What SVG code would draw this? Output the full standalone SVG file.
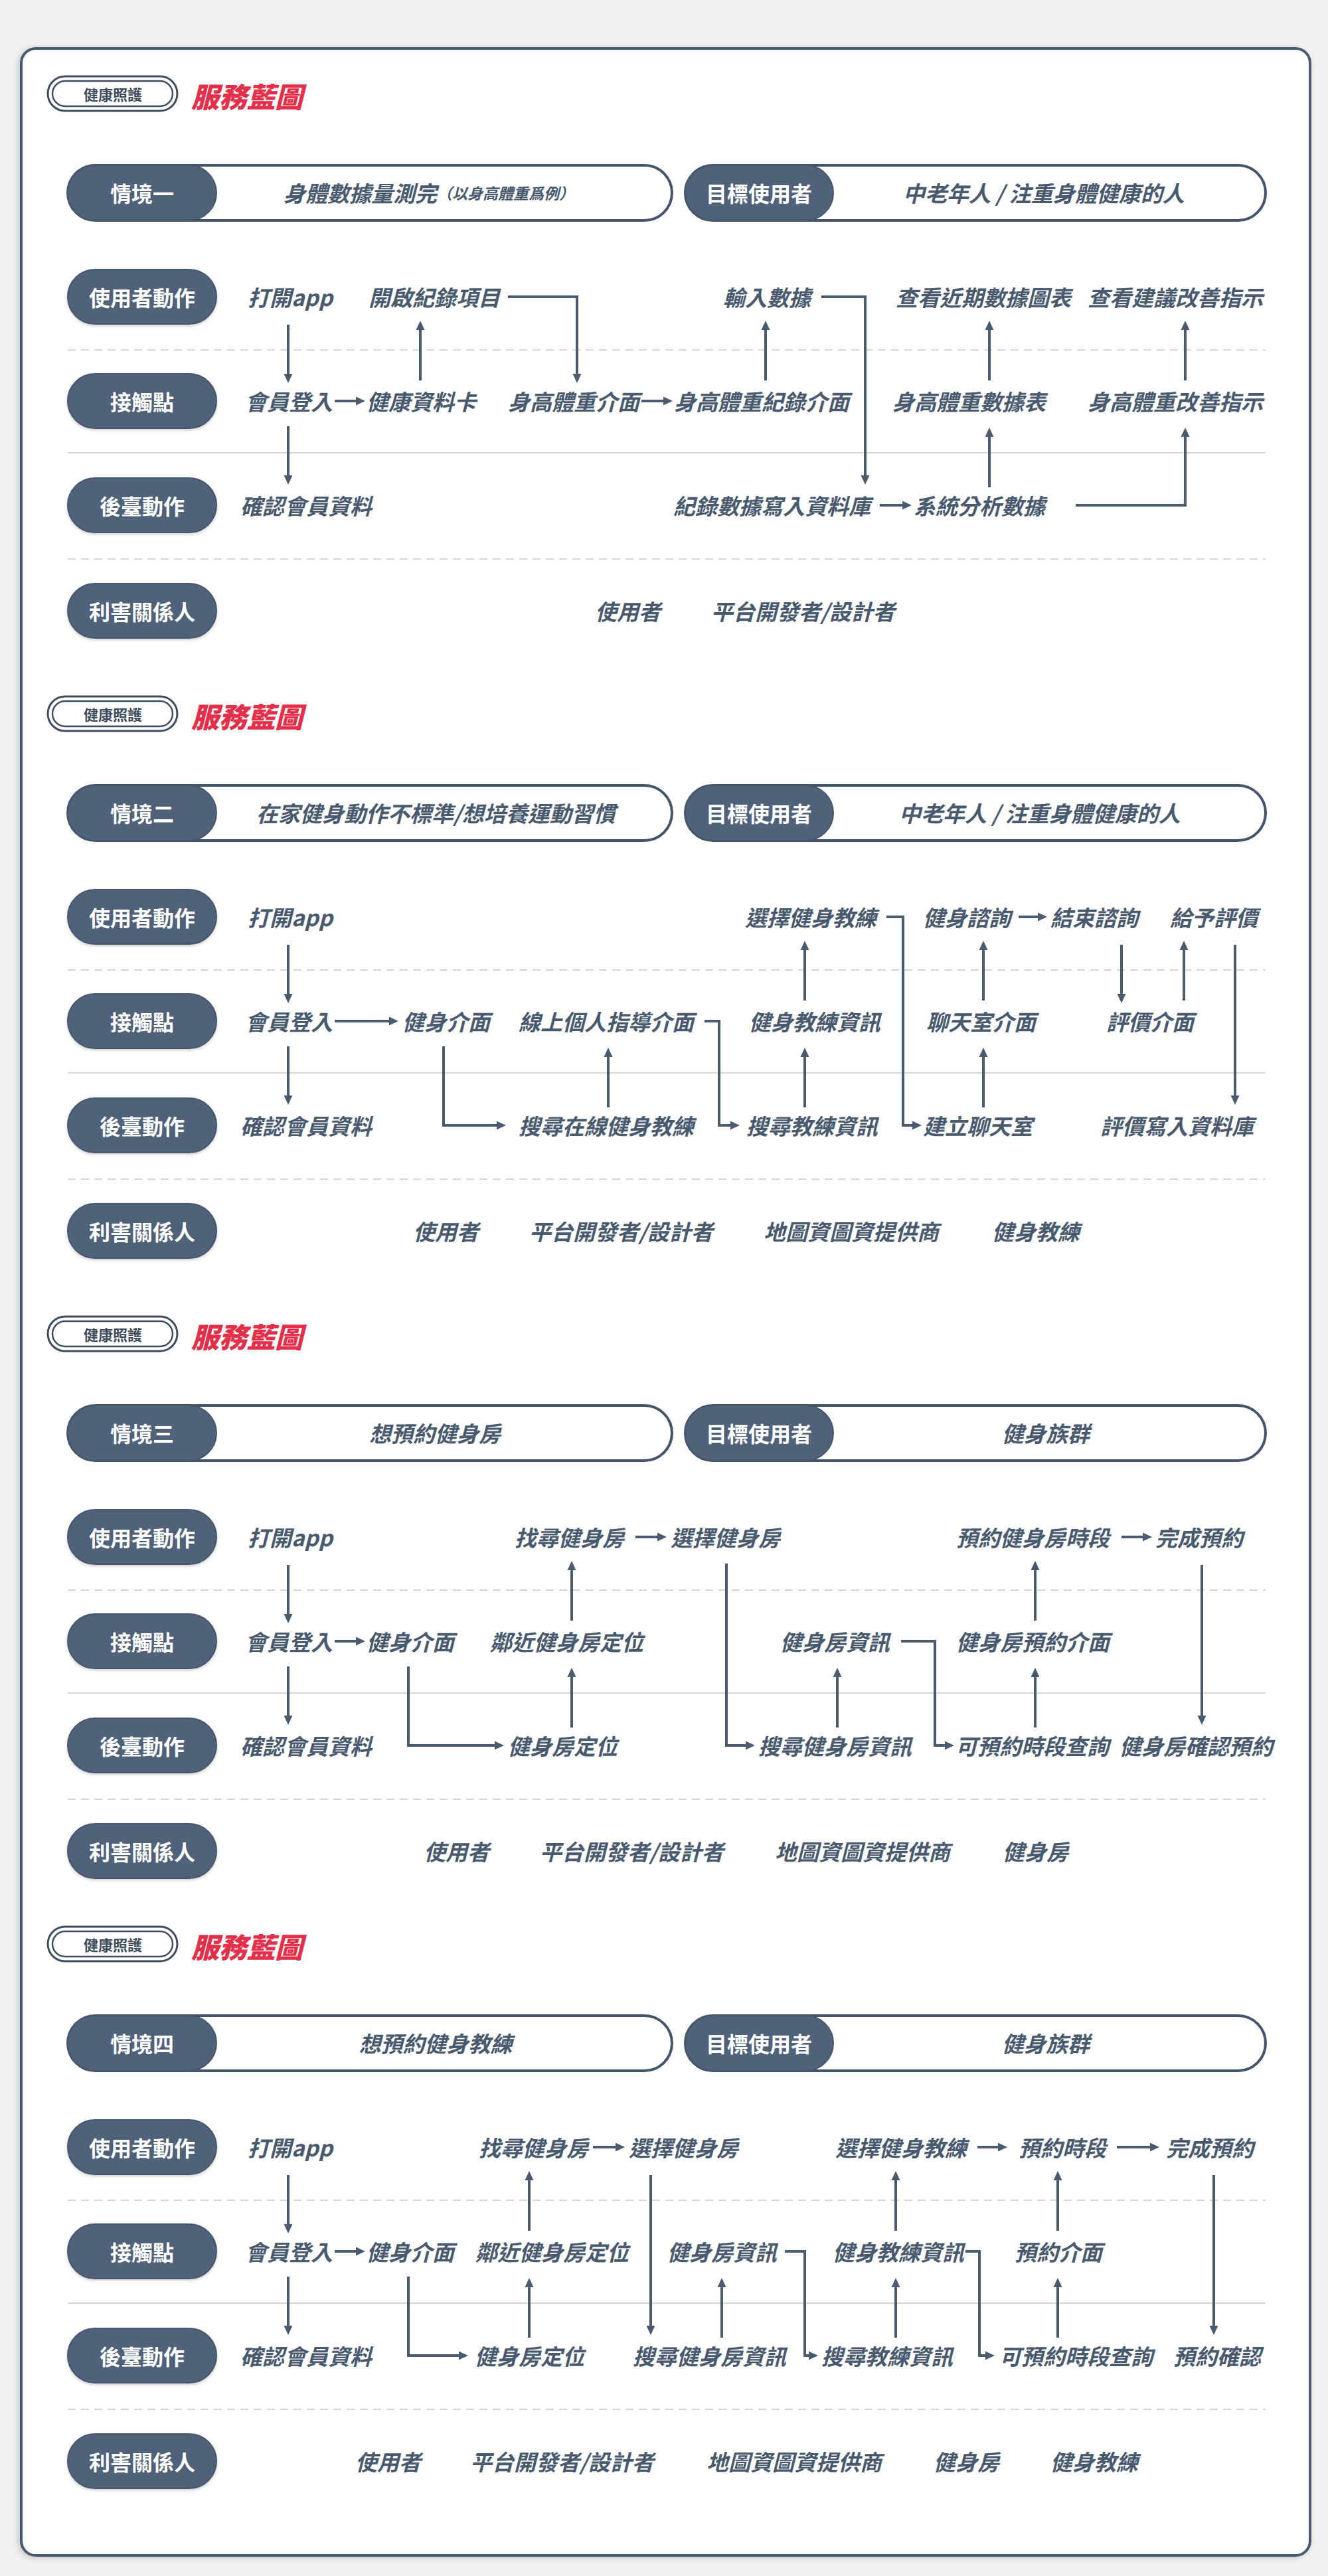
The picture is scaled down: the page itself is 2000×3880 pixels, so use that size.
<svg xmlns="http://www.w3.org/2000/svg" width="2000" height="3880" viewBox="0 0 2000 3880">
<style>
.lbl{font-family:"Noto Sans CJK TC","Noto Sans CJK SC",sans-serif;font-weight:700;font-size:32px;fill:#fff;text-anchor:middle;dominant-baseline:central}
.t{font-family:"Noto Sans CJK TC","Noto Sans CJK SC",sans-serif;font-weight:700;font-style:italic;font-size:33px;fill:#4a5a6e;dominant-baseline:central}
.m{text-anchor:middle}
.pill{fill:#506279;stroke:#46576c;stroke-width:2}
.bar{fill:#fff;stroke:#44546a;stroke-width:4}
.dash{stroke:#d2d6db;stroke-width:2;stroke-dasharray:12 8}
.solid{stroke:#d2d6db;stroke-width:2}
.c{fill:none;stroke:#4a5b70;stroke-width:4;marker-end:url(#ah)}
.badge{fill:none;stroke:#3f4d5f}
.bt{font-family:"Noto Sans CJK TC","Noto Sans CJK SC",sans-serif;font-weight:700;font-size:22px;fill:#3d4a5a;text-anchor:middle;dominant-baseline:central}
.title{font-family:"Noto Sans CJK TC","Noto Sans CJK SC",sans-serif;font-weight:900;font-style:italic;font-size:42px;fill:#e2304b;dominant-baseline:central}
</style>
<defs>
<marker id="ah" viewBox="0 0 14 14" refX="10" refY="7" markerWidth="14" markerHeight="14" markerUnits="userSpaceOnUse" orient="auto"><path d="M0,0.5 L14,7 L0,13.5 z" fill="#4a5b70"/></marker>
<filter id="sh" x="-5%" y="-5%" width="110%" height="110%"><feDropShadow dx="-3" dy="2" stdDeviation="4" flood-color="#000" flood-opacity="0.18"/></filter>
<filter id="ps" x="-10%" y="-20%" width="120%" height="150%"><feDropShadow dx="0" dy="2" stdDeviation="2" flood-color="#000" flood-opacity="0.2"/></filter>
<g id="rowlabels">
<rect class="pill" x="102" y="406" width="224" height="82" rx="41" filter="url(#ps)"/><text class="lbl" x="214" y="447">使用者動作</text>
<rect class="pill" x="102" y="563" width="224" height="82" rx="41" filter="url(#ps)"/><text class="lbl" x="214" y="604">接觸點</text>
<rect class="pill" x="102" y="720" width="224" height="82" rx="41" filter="url(#ps)"/><text class="lbl" x="214" y="761">後臺動作</text>
<rect class="pill" x="102" y="879" width="224" height="82" rx="41" filter="url(#ps)"/><text class="lbl" x="214" y="920">利害關係人</text>
<line class="dash" x1="102" y1="527" x2="1906" y2="527"/>
<line class="solid" x1="102" y1="682" x2="1906" y2="682"/>
<line class="dash" x1="102" y1="842" x2="1906" y2="842"/>
</g>
<g id="header">
<rect class="badge" x="72" y="115" width="195" height="52" rx="26" stroke-width="3"/>
<rect class="badge" x="79" y="122" width="181" height="38" rx="19" stroke-width="2.5"/>
<text class="bt" x="170" y="141">健康照護</text>
<text class="title" x="288" y="143">服務藍圖</text>
</g>
</defs>
<rect x="0" y="0" width="2000" height="3880" fill="#f1f1f1"/>
<rect x="32" y="73" width="1941" height="3776" rx="22" fill="#fff" stroke="#4a5a6e" stroke-width="4" filter="url(#sh)"/>

<!-- Section 1 -->
<g id="section1">
<use href="#header"/>
<use href="#rowlabels"/>
<g id="s1-scenario"><rect class="bar" x="102" y="249" width="910" height="83" rx="41.5"/><rect class="pill" x="102" y="249" width="224" height="83" rx="41.5"/><text class="lbl" x="214" y="290">情境一</text><text class="t" x="427" y="290">身體數據量測完<tspan font-size="23">（以身高體重爲例）</tspan></text></g>
<g id="s1-target"><rect class="bar" x="1032" y="249" width="874" height="83" rx="41.5"/><rect class="pill" x="1032" y="249" width="223" height="83" rx="41.5"/><text class="lbl" x="1143" y="290">目標使用者</text><text class="t m" x="1572" y="290">中老年人 / 注重身體健康的人</text></g>
<g id="s1-u1"><text class="t" x="373" y="447">打開app</text></g>
<g id="s1-u2"><text class="t" x="555" y="447">開啟紀錄項目</text></g>
<g id="s1-u3"><text class="t" x="1089" y="447">輸入數據</text></g>
<g id="s1-u4"><text class="t" x="1349" y="447">查看近期數據圖表</text></g>
<g id="s1-u5"><text class="t" x="1638" y="447">查看建議改善指示</text></g>
<g id="s1-t1"><text class="t" x="369" y="604">會員登入</text></g>
<g id="s1-t2"><text class="t" x="552" y="604">健康資料卡</text></g>
<g id="s1-t3"><text class="t" x="765" y="604">身高體重介面</text></g>
<g id="s1-t4"><text class="t" x="1015" y="604">身高體重紀錄介面</text></g>
<g id="s1-t5"><text class="t" x="1344" y="604">身高體重數據表</text></g>
<g id="s1-t6"><text class="t" x="1638" y="604">身高體重改善指示</text></g>
<g id="s1-b1"><text class="t" x="362" y="761">確認會員資料</text></g>
<g id="s1-b2"><text class="t" x="1014" y="761">紀錄數據寫入資料庫</text></g>
<g id="s1-b3"><text class="t" x="1376" y="761">系統分析數據</text></g>
<g id="s1-s1"><text class="t" x="896" y="920">使用者</text></g>
<g id="s1-s2"><text class="t" x="1071" y="920">平台開發者/設計者</text></g>
<g id="s1-connectors">
<path class="c" d="M434 489V573"/>
<path class="c" d="M504 604H546"/>
<path class="c" d="M633 573V487"/>
<path class="c" d="M765 447H869V573"/>
<path class="c" d="M966 604H1009"/>
<path class="c" d="M1153 573V487"/>
<path class="c" d="M1237 447H1303V726"/>
<path class="c" d="M434 642V726"/>
<path class="c" d="M1325 761H1369"/>
<path class="c" d="M1490 734V648"/>
<path class="c" d="M1490 573V487"/>
<path class="c" d="M1620 761H1785V648"/>
<path class="c" d="M1785 573V487"/>
</g>
</g>

<!-- Section 2 -->
<g id="section2" transform="translate(0,934)">
<use href="#header"/>
<use href="#rowlabels"/>
<g id="s2-scenario"><rect class="bar" x="102" y="249" width="910" height="83" rx="41.5"/><rect class="pill" x="102" y="249" width="224" height="83" rx="41.5"/><text class="lbl" x="214" y="290">情境二</text><text class="t" x="386" y="290">在家健身動作不標準/想培養運動習慣</text></g>
<g id="s2-target"><rect class="bar" x="1032" y="249" width="874" height="83" rx="41.5"/><rect class="pill" x="1032" y="249" width="223" height="83" rx="41.5"/><text class="lbl" x="1143" y="290">目標使用者</text><text class="t m" x="1566" y="290">中老年人 / 注重身體健康的人</text></g>
<g id="s2-u1"><text class="t" x="373" y="447">打開app</text></g>
<g id="s2-u2"><text class="t" x="1122" y="447">選擇健身教練</text></g>
<g id="s2-u3"><text class="t" x="1390" y="447">健身諮詢</text></g>
<g id="s2-u4"><text class="t" x="1582" y="447">結束諮詢</text></g>
<g id="s2-u5"><text class="t" x="1762" y="447">給予評價</text></g>
<g id="s2-t1"><text class="t" x="369" y="604">會員登入</text></g>
<g id="s2-t2"><text class="t" x="606" y="604">健身介面</text></g>
<g id="s2-t3"><text class="t" x="781" y="604">線上個人指導介面</text></g>
<g id="s2-t4"><text class="t" x="1128" y="604">健身教練資訊</text></g>
<g id="s2-t5"><text class="t" x="1395" y="604">聊天室介面</text></g>
<g id="s2-t6"><text class="t" x="1666" y="604">評價介面</text></g>
<g id="s2-b1"><text class="t" x="362" y="761">確認會員資料</text></g>
<g id="s2-b2"><text class="t" x="781" y="761">搜尋在線健身教練</text></g>
<g id="s2-b3"><text class="t" x="1124" y="761">搜尋教練資訊</text></g>
<g id="s2-b4"><text class="t" x="1390" y="761">建立聊天室</text></g>
<g id="s2-b5"><text class="t" x="1657" y="761">評價寫入資料庫</text></g>
<g id="s2-s1"><text class="t" x="622" y="920">使用者</text></g>
<g id="s2-s2"><text class="t" x="797" y="920">平台開發者/設計者</text></g>
<g id="s2-s3"><text class="t" x="1150" y="920">地圖資圖資提供商</text></g>
<g id="s2-s4"><text class="t" x="1494" y="920">健身教練</text></g>
<g id="s2-connectors">
<path class="c" d="M434 489V573"/>
<path class="c" d="M504 604H596"/>
<path class="c" d="M434 642V726"/>
<path class="c" d="M668 642V761H758"/>
<path class="c" d="M916 734V648"/>
<path class="c" d="M1061 604H1083V761H1110"/>
<path class="c" d="M1212 734V648"/>
<path class="c" d="M1212 573V487"/>
<path class="c" d="M1335 447H1360V761H1384"/>
<path class="c" d="M1481 734V648"/>
<path class="c" d="M1481 573V487"/>
<path class="c" d="M1534 447H1573"/>
<path class="c" d="M1689 489V573"/>
<path class="c" d="M1783 573V487"/>
<path class="c" d="M1860 489V726"/>
</g>
</g>

<!-- Section 3 -->
<g id="section3" transform="translate(0,1868)">
<use href="#header"/>
<use href="#rowlabels"/>
<g id="s3-scenario"><rect class="bar" x="102" y="249" width="910" height="83" rx="41.5"/><rect class="pill" x="102" y="249" width="224" height="83" rx="41.5"/><text class="lbl" x="214" y="290">情境三</text><text class="t m" x="655" y="290">想預約健身房</text></g>
<g id="s3-target"><rect class="bar" x="1032" y="249" width="874" height="83" rx="41.5"/><rect class="pill" x="1032" y="249" width="223" height="83" rx="41.5"/><text class="lbl" x="1143" y="290">目標使用者</text><text class="t m" x="1575" y="290">健身族群</text></g>
<g id="s3-u1"><text class="t" x="373" y="447">打開app</text></g>
<g id="s3-u2"><text class="t" x="775" y="447">找尋健身房</text></g>
<g id="s3-u3"><text class="t" x="1010" y="447">選擇健身房</text></g>
<g id="s3-u4"><text class="t" x="1440" y="447">預約健身房時段</text></g>
<g id="s3-u5"><text class="t" x="1740" y="447">完成預約</text></g>
<g id="s3-t1"><text class="t" x="369" y="604">會員登入</text></g>
<g id="s3-t2"><text class="t" x="552" y="604">健身介面</text></g>
<g id="s3-t3"><text class="t" x="738" y="604">鄰近健身房定位</text></g>
<g id="s3-t4"><text class="t" x="1175" y="604">健身房資訊</text></g>
<g id="s3-t5"><text class="t" x="1440" y="604">健身房預約介面</text></g>
<g id="s3-b1"><text class="t" x="362" y="761">確認會員資料</text></g>
<g id="s3-b2"><text class="t" x="765" y="761">健身房定位</text></g>
<g id="s3-b3"><text class="t" x="1142" y="761">搜尋健身房資訊</text></g>
<g id="s3-b4"><text class="t" x="1439" y="761">可預約時段查詢</text></g>
<g id="s3-b5"><text class="t" x="1686" y="761">健身房確認預約</text></g>
<g id="s3-s1"><text class="t" x="638" y="920">使用者</text></g>
<g id="s3-s2"><text class="t" x="813" y="920">平台開發者/設計者</text></g>
<g id="s3-s3"><text class="t" x="1167" y="920">地圖資圖資提供商</text></g>
<g id="s3-s4"><text class="t" x="1510" y="920">健身房</text></g>
<g id="s3-connectors">
<path class="c" d="M434 489V573"/>
<path class="c" d="M504 604H546"/>
<path class="c" d="M434 642V726"/>
<path class="c" d="M615 642V761H755"/>
<path class="c" d="M861 734V648"/>
<path class="c" d="M861 573V487"/>
<path class="c" d="M957 447H1000"/>
<path class="c" d="M1094 487V761H1133"/>
<path class="c" d="M1261 734V648"/>
<path class="c" d="M1357 604H1408V761H1433"/>
<path class="c" d="M1559 734V648"/>
<path class="c" d="M1559 573V487"/>
<path class="c" d="M1689 447H1731"/>
<path class="c" d="M1810 489V726"/>
</g>
</g>

<!-- Section 4 -->
<g id="section4" transform="translate(0,2787)">
<use href="#header"/>
<use href="#rowlabels"/>
<g id="s4-scenario"><rect class="bar" x="102" y="249" width="910" height="83" rx="41.5"/><rect class="pill" x="102" y="249" width="224" height="83" rx="41.5"/><text class="lbl" x="214" y="290">情境四</text><text class="t m" x="656" y="290">想預約健身教練</text></g>
<g id="s4-target"><rect class="bar" x="1032" y="249" width="874" height="83" rx="41.5"/><rect class="pill" x="1032" y="249" width="223" height="83" rx="41.5"/><text class="lbl" x="1143" y="290">目標使用者</text><text class="t m" x="1575" y="290">健身族群</text></g>
<g id="s4-u1"><text class="t" x="373" y="447">打開app</text></g>
<g id="s4-u2"><text class="t" x="721" y="447">找尋健身房</text></g>
<g id="s4-u3"><text class="t" x="947" y="447">選擇健身房</text></g>
<g id="s4-u4"><text class="t" x="1258" y="447">選擇健身教練</text></g>
<g id="s4-u5"><text class="t" x="1534" y="447">預約時段</text></g>
<g id="s4-u6"><text class="t" x="1756" y="447">完成預約</text></g>
<g id="s4-t1"><text class="t" x="369" y="604">會員登入</text></g>
<g id="s4-t2"><text class="t" x="552" y="604">健身介面</text></g>
<g id="s4-t3"><text class="t" x="716" y="604">鄰近健身房定位</text></g>
<g id="s4-t4"><text class="t" x="1005" y="604">健身房資訊</text></g>
<g id="s4-t5"><text class="t" x="1254" y="604">健身教練資訊</text></g>
<g id="s4-t6"><text class="t" x="1528" y="604">預約介面</text></g>
<g id="s4-b1"><text class="t" x="362" y="761">確認會員資料</text></g>
<g id="s4-b2"><text class="t" x="715" y="761">健身房定位</text></g>
<g id="s4-b3"><text class="t" x="953" y="761">搜尋健身房資訊</text></g>
<g id="s4-b4"><text class="t" x="1237" y="761">搜尋教練資訊</text></g>
<g id="s4-b5"><text class="t" x="1505" y="761">可預約時段查詢</text></g>
<g id="s4-b6"><text class="t" x="1767" y="761">預約確認</text></g>
<g id="s4-s1"><text class="t" x="535" y="920">使用者</text></g>
<g id="s4-s2"><text class="t" x="708" y="920">平台開發者/設計者</text></g>
<g id="s4-s3"><text class="t" x="1064" y="920">地圖資圖資提供商</text></g>
<g id="s4-s4"><text class="t" x="1406" y="920">健身房</text></g>
<g id="s4-s5"><text class="t" x="1582" y="920">健身教練</text></g>
<g id="s4-connectors">
<path class="c" d="M434 489V573"/>
<path class="c" d="M504 604H546"/>
<path class="c" d="M434 642V726"/>
<path class="c" d="M615 642V761H701"/>
<path class="c" d="M797 734V648"/>
<path class="c" d="M797 573V487"/>
<path class="c" d="M893 447H937"/>
<path class="c" d="M980 489V726"/>
<path class="c" d="M1087 734V648"/>
<path class="c" d="M1182 604H1212V761H1228"/>
<path class="c" d="M1349 734V648"/>
<path class="c" d="M1349 573V487"/>
<path class="c" d="M1454 604H1475V761H1494"/>
<path class="c" d="M1472 447H1513"/>
<path class="c" d="M1593 734V648"/>
<path class="c" d="M1593 573V487"/>
<path class="c" d="M1682 447H1742"/>
<path class="c" d="M1828 489V726"/>
</g>
</g>
</svg>
